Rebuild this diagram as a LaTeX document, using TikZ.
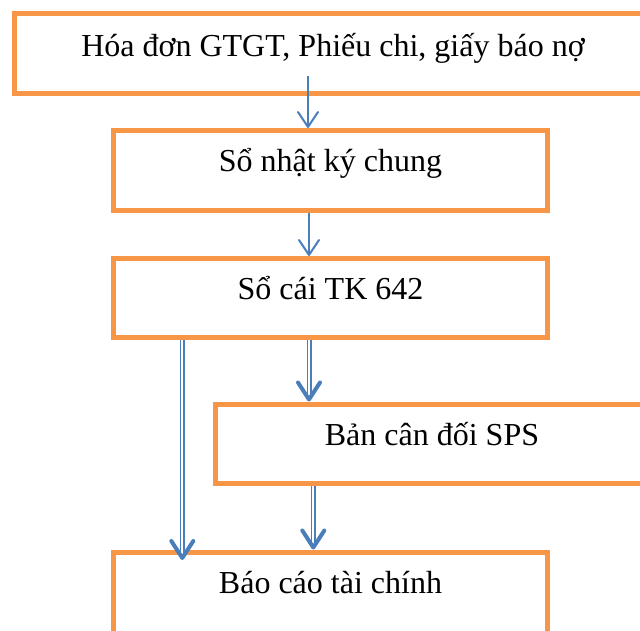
\documentclass[tikz,border=0pt]{standalone}
\usepackage{fontspec}
\setmainfont{Liberation Serif}
\usetikzlibrary{arrows.meta,decorations.markings}
\definecolor{boxorange}{HTML}{F79646}
\definecolor{arrowblue}{HTML}{4A7EBB}
\begin{document}
\begin{tikzpicture}[x=1pt,y=-1pt,
  box/.style={draw=boxorange, line width=5pt, rectangle, inner sep=0pt, fill=none},
  txt/.style={font=\fontsize{32}{36}\selectfont, anchor=base, inner sep=0pt},
  arr/.style={draw=arrowblue, line width=2pt, -{Straight Barb[round,length=15pt,width=20pt]}},
  dblarr/.style={draw=arrowblue, line width=1.5pt, double=white, double distance=2pt, shorten >=3pt,
     postaction={decorate, decoration={markings, mark=at position 1 with {\pgfsetinnerlinewidth{0pt}\arrow[arrowblue, line width=4pt]{Straight Barb[round,length=17pt,width=22pt]}}}}}
]
\useasboundingbox (0,0) rectangle (640,631);
% boxes
\node[box, minimum width=638pt, minimum height=80pt] (b1) at (333,54) {};
\node[box, minimum width=434pt, minimum height=80pt] (b2) at (330.5,170.5) {};
\node[box, minimum width=434pt, minimum height=79pt] (b3) at (330.5,298) {};
\node[box, minimum width=433pt, minimum height=79.5pt] (b4) at (432,443.75) {};
\node[box, minimum width=434pt, minimum height=88pt] (b5) at (330.5,596) {};
% texts
\node[txt] (t1) at (333,57) {Hóa đơn GTGT, Phiếu chi, giấy báo nợ};
\node[txt] (t2) at (330.5,172) {Sổ nhật ký chung};
\node[txt] (t3) at (330.5,299.5) {Sổ cái TK 642};
\node[txt] (t4) at (432,445) {Bản cân đối SPS};
\node[txt] (t5) at (330.5,593) {Báo cáo tài chính};
% arrow columns
\coordinate (xa) at (308,0);
\coordinate (xb) at (309,0);
\coordinate (xc) at (313.3,0);
\coordinate (xd) at (182.3,0);
% connectors
\draw[arr] ([yshift=20.5pt]b1.south -| xa) -- (b2.north -| xa);
\draw[arr] (b2.south -| xb) -- (b3.north -| xb);
\draw[dblarr] (b3.south -| xb) -- (b4.north -| xb);
\draw[dblarr] (b4.south -| xc) -- (b5.north -| xc);
\draw[dblarr] (b3.south -| xd) -- ([yshift=-10.5pt]b5.north -| xd);
\end{tikzpicture}
\end{document}
